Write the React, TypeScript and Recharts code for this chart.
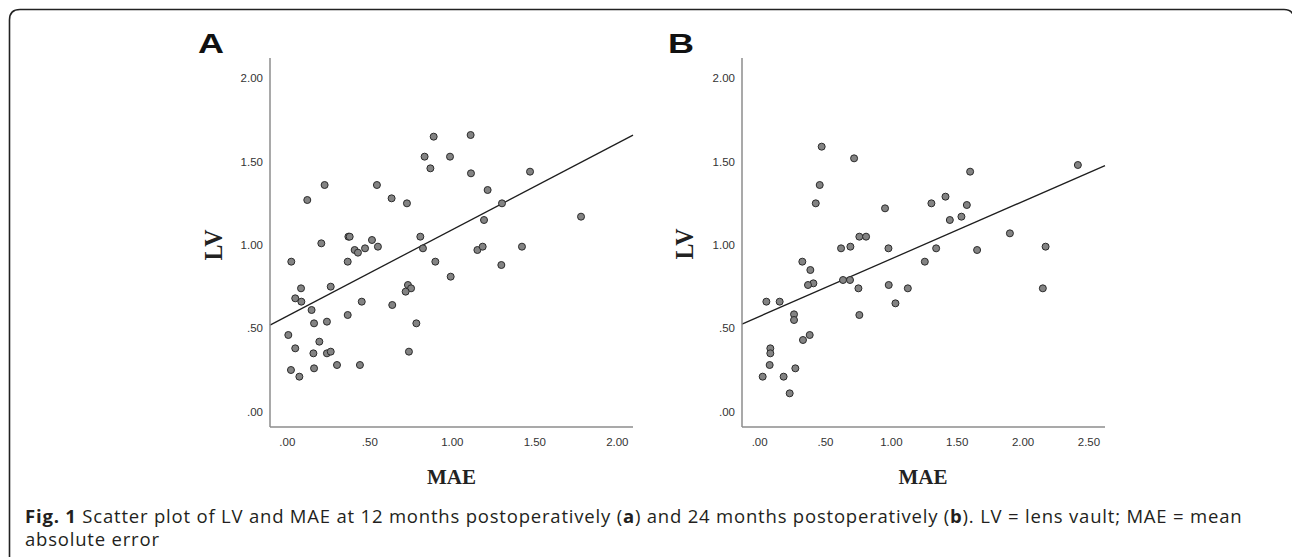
import React from "react";
import {
  ScatterChart,
  Scatter,
  XAxis,
  YAxis,
  ReferenceLine,
} from "recharts";

// Panel A: 12 months postoperatively
const maeA = [
  0.887, 1.111, 0.832, 0.986, 0.867, 1.113, 1.471, 0.226, 0.543, 1.214,
  0.121, 0.632, 0.725, 1.301, 1.78, 1.192, 0.206, 0.37, 0.378, 0.513,
  0.806, 0.408, 0.428, 0.471, 0.549, 0.822, 1.152, 1.184, 1.422, 0.024,
  0.366, 0.897, 1.297, 0.99, 0.083, 0.263, 0.731, 0.75, 0.717, 0.048,
  0.085, 0.451, 0.636, 0.147, 0.366, 0.162, 0.24, 0.782, 0.006, 0.194,
  0.048, 0.158, 0.24, 0.263, 0.737, 0.301, 0.44, 0.022, 0.162, 0.073,
];
const lvA = [
  1.65, 1.66, 1.53, 1.53, 1.46, 1.43, 1.44, 1.36, 1.36, 1.33,
  1.27, 1.28, 1.25, 1.25, 1.17, 1.15, 1.01, 1.05, 1.05, 1.03,
  1.05, 0.97, 0.954, 0.98, 0.99, 0.98, 0.97, 0.99, 0.99, 0.9,
  0.9, 0.9, 0.88, 0.81, 0.74, 0.75, 0.76, 0.74, 0.72, 0.68,
  0.66, 0.66, 0.64, 0.61, 0.58, 0.53, 0.54, 0.53, 0.46, 0.42,
  0.38, 0.35, 0.35, 0.36, 0.36, 0.28, 0.28, 0.25, 0.26, 0.21,
];

// Panel B: 24 months postoperatively
const maeB = [
  0.471, 0.717, 2.416, 1.598, 0.456, 1.411, 0.426, 1.304, 1.573, 0.952,
  1.532, 1.444, 1.9, 0.757, 0.808, 0.618, 0.689, 0.978, 1.34, 2.171,
  1.651, 0.324, 1.254, 0.385, 0.633, 0.686, 0.408, 0.367, 0.98, 0.75,
  1.125, 2.15, 1.031, 0.051, 0.152, 0.261, 0.261, 0.757, 0.38, 0.329,
  0.081, 0.081, 0.076, 0.271, 0.023, 0.182, 0.228,
];
const lvB = [
  1.59, 1.52, 1.48, 1.44, 1.36, 1.29, 1.25, 1.25, 1.24, 1.22,
  1.17, 1.15, 1.07, 1.05, 1.05, 0.98, 0.99, 0.98, 0.98, 0.99,
  0.97, 0.9, 0.9, 0.85, 0.79, 0.79, 0.77, 0.76, 0.76, 0.74,
  0.74, 0.74, 0.65, 0.66, 0.66, 0.584, 0.55, 0.58, 0.46, 0.43,
  0.38, 0.35, 0.28, 0.26, 0.21, 0.21, 0.11,
];

// linear fit lines: [intercept, slope]
const fitA = [0.574, 0.518];
const fitB = [0.572, 0.345];

const xTicksA = [0, 0.5, 1, 1.5, 2];
const xTicksB = [0, 0.5, 1, 1.5, 2, 2.5];
const yTicks = [0, 0.5, 1, 1.5, 2];

const xDomainA = [-0.105, 2.095];
const xDomainB = [-0.134, 2.622];
const yDomain = [-0.092, 2.122];

// caption pieces, [text, bold]
const captionLine1: [string, boolean][] = [
  ["Fig. 1", true],
  [" Scatter plot of LV and MAE at 12 months postoperatively (", false],
  ["a", true],
  [") and 24 months postoperatively (", false],
  ["b", true],
  ["). LV = lens vault; MAE = mean", false],
];
const captionLine2 = "absolute error";

const fmt = (v: number) => v.toFixed(2).replace(/^0/, "");

const tickStyle = {
  fontSize: 11.5,
  fill: "#333",
  fontFamily: "Liberation Sans, Arial, sans-serif",
};

const Dot = (props: any) => (
  <circle cx={props.cx} cy={props.cy} r={3.5} fill="#838383" stroke="#2b2b2b" strokeWidth={1} />
);

type PanelProps = {
  mae: number[];
  lv: number[];
  fit: number[];
  xDomain: number[];
  xTicks: number[];
  left: number;
};

function Panel({ mae, lv, fit, xDomain, xTicks, left }: PanelProps) {
  const data = mae.map((m, i) => ({ x: m, y: lv[i] }));
  const [b0, b1] = fit;
  const seg = [
    { x: xDomain[0], y: b0 + b1 * xDomain[0] },
    { x: xDomain[1], y: b0 + b1 * xDomain[1] },
  ];
  return (
    <div style={{ position: "absolute", left, top: 48 }}>
      <ScatterChart width={450} height={430} margin={{ top: 10, right: 17, left: 0, bottom: 0 }}>
        <XAxis
          type="number"
          dataKey="x"
          domain={xDomain}
          ticks={xTicks}
          interval={0}
          allowDataOverflow
          tickFormatter={fmt}
          tick={tickStyle}
          tickLine={false}
          tickSize={0}
          tickMargin={11}
          height={51}
          axisLine={{ stroke: "#8c8c8c", strokeWidth: 1.5 }}
        />
        <YAxis
          type="number"
          dataKey="y"
          domain={yDomain}
          ticks={yTicks}
          interval={0}
          allowDataOverflow
          tickFormatter={fmt}
          tick={tickStyle}
          tickLine={false}
          tickSize={0}
          tickMargin={7}
          width={70}
          axisLine={{ stroke: "#8c8c8c", strokeWidth: 1.5 }}
        />
        <ReferenceLine segment={seg} stroke="#1e1e1e" strokeWidth={1.3} ifOverflow="visible" />
        <Scatter data={data} shape={Dot} isAnimationActive={false} />
      </ScatterChart>
    </div>
  );
}

export default function App() {
  const serif = "Liberation Serif, Times New Roman, serif";
  const sans = "Liberation Sans, Arial, sans-serif";
  const capFont = "Open Sans, sans-serif";
  return (
    <div style={{ position: "relative", width: 1292, height: 557, background: "#fff", overflow: "hidden" }}>
      <style>{`body{margin:0}`}</style>
      <Panel mae={maeA} lv={lvA} fit={fitA} xDomain={xDomainA} xTicks={xTicksA} left={200} />
      <Panel mae={maeB} lv={lvB} fit={fitB} xDomain={xDomainB} xTicks={xTicksB} left={672} />
      <svg width={1292} height={557} style={{ position: "absolute", left: 0, top: 0, pointerEvents: "none" }}>
        <path d="M 9.5 560 L 9.5 20 Q 9.5 9.5 20 9.5 L 1284 9.5 Q 1294 9.5 1294 20 L 1294 470" fill="none" stroke="#222" strokeWidth={1.6} />
        <text x={198} y={53} fontFamily={sans} fontWeight="bold" fontSize={28} textLength={26} lengthAdjust="spacingAndGlyphs" fill="#111">A</text>
        <text x={668} y={53} fontFamily={sans} fontWeight="bold" fontSize={28} textLength={26} lengthAdjust="spacingAndGlyphs" fill="#111">B</text>
        <text x={221.5} y={245} transform="rotate(-90 221.5 245)" textAnchor="middle" fontFamily={serif} fontWeight="bold" fontSize={25} textLength={31} lengthAdjust="spacingAndGlyphs" fill="#222">LV</text>
        <text x={693} y={244} transform="rotate(-90 693 244)" textAnchor="middle" fontFamily={serif} fontWeight="bold" fontSize={25} textLength={31} lengthAdjust="spacingAndGlyphs" fill="#222">LV</text>
        <text x={451.5} y={484} textAnchor="middle" fontFamily={serif} fontWeight="bold" fontSize={21} fill="#222">MAE</text>
        <text x={923} y={484} textAnchor="middle" fontFamily={serif} fontWeight="bold" fontSize={21} fill="#222">MAE</text>
        <text x={25} y={523} fontFamily={capFont} fontSize={18.5} letterSpacing={0.8} fill="#231f20">
          {captionLine1.map(([t, b], i) => (
            <tspan key={i} fontWeight={b ? "bold" : "normal"} style={{ whiteSpace: "pre" }}>{t}</tspan>
          ))}
        </text>
        <text x={25} y={546} fontFamily={capFont} fontSize={18.5} letterSpacing={0.8} fill="#231f20">
          {captionLine2}
        </text>
      </svg>
    </div>
  );
}
